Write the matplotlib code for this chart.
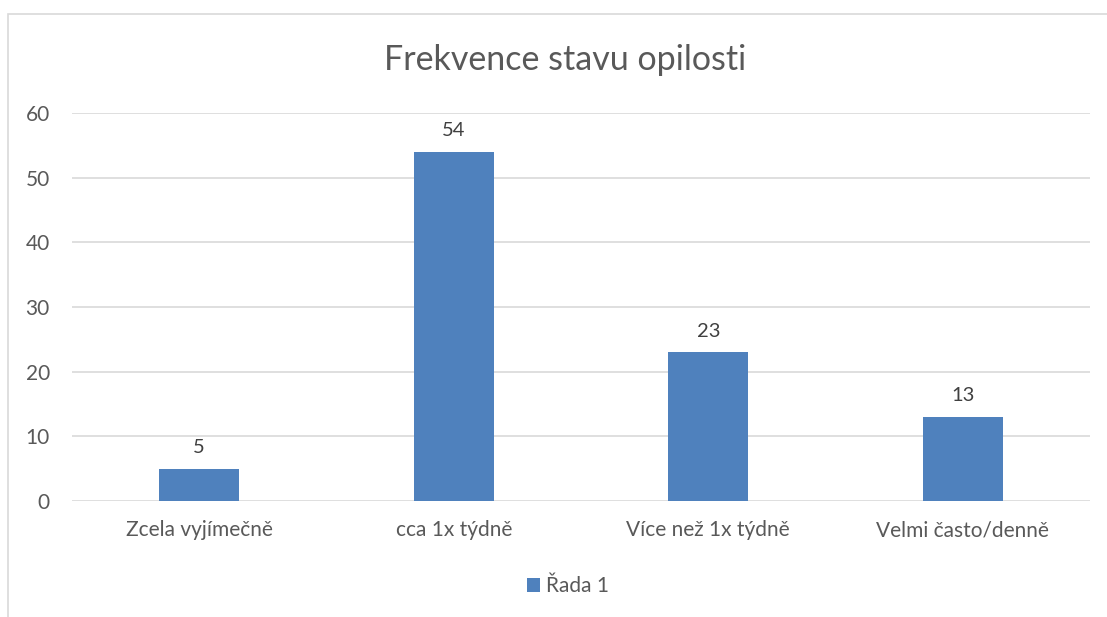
import matplotlib
matplotlib.use("Agg")
import matplotlib.pyplot as plt
from matplotlib.patches import Rectangle, Patch

categories = ["Zcela vyjímečně", "cca 1x týdně", "Více než 1x týdně", "Velmi často/denně"]
values = [5, 54, 23, 13]
yticks = [0, 10, 20, 30, 40, 50, 60]
series_name = "Řada 1"
title = "Frekvence stavu opilosti"

plt.rcParams['font.family'] = ['Lato', 'DejaVu Sans']

W, H = 1107, 617
fig = plt.figure(figsize=(W / 100, H / 100), dpi=100)
fig.patch.set_facecolor("white")

# outer chart frame (extends beyond image right/bottom)
fig.patches.append(Rectangle((8 / W, -0.1), 1.2, 1 - 14 / H + 0.1, transform=fig.transFigure,
                             fill=False, edgecolor="#d9d9d9", linewidth=1.2))

ax = fig.add_axes([72 / W, 1 - 501 / H, (1090 - 72) / W, (501 - 113) / H])
x = list(range(len(categories)))
bars = ax.bar(x, values, width=0.314, color="#4f81bd", zorder=3)
ax.set_xlim(-0.5, len(categories) - 0.5)
ax.set_ylim(0, 60)
ax.set_yticks(yticks)
ax.set_yticklabels([str(t) for t in yticks])
ax.set_xticks(x)
ax.set_xticklabels(categories)
ax.yaxis.grid(True, color="#d9d9d9", linewidth=1.2, zorder=0)
ax.set_axisbelow(True)
for s in ax.spines.values():
    s.set_visible(False)
ax.tick_params(axis="both", length=0, labelsize=15, labelcolor="#595959")
ax.tick_params(axis="y", pad=16)
ax.tick_params(axis="x", pad=14)
for b, v in zip(bars, values):
    ax.annotate(str(v), (b.get_x() + b.get_width() / 2, v), xytext=(0, 9),
                textcoords="offset points", ha="center", va="bottom",
                fontsize=14.5, color="#404040")

fig.text(565 / W, 1 - 60 / H, title, ha="center", va="center", fontsize=24.5, color="#595959")

leg = fig.legend(handles=[Patch(facecolor="#4f81bd", edgecolor="none")], labels=[series_name],
                 loc="center", bbox_to_anchor=(568 / W, 1 - 586 / H), frameon=False,
                 fontsize=15, handlelength=0.65, handleheight=0.65, handletextpad=0.3,
                 labelcolor="#595959")

fig.savefig("out.png", dpi=100)
